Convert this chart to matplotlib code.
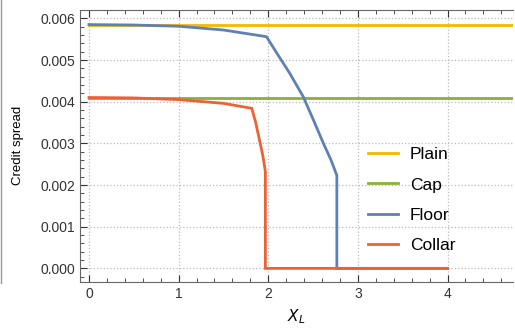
import numpy as np
import matplotlib
matplotlib.use("Agg")
import matplotlib.pyplot as plt
from matplotlib.lines import Line2D

plt.rcParams['font.family'] = ['Liberation Sans', 'DejaVu Sans']

# data
plain_x = [0.0, 4.72]
plain_y = [0.00585, 0.00585]

cap_x = [0.0, 4.72]
cap_y = [0.0041, 0.0041]

floor_x = [0.0, 0.5, 1.0, 1.5, 1.98, 2.1, 2.24, 2.39, 2.5, 2.615, 2.7, 2.765, 2.765, 4.0]
floor_y = [0.00585, 0.00584, 0.00581, 0.00572, 0.00556, 0.00515, 0.00468, 0.00412, 0.00358, 0.0030, 0.0026, 0.00223, 0.0, 0.0]

collar_x = [0.0, 0.5, 1.0, 1.5, 1.816, 1.86, 1.91, 1.94, 1.968, 1.968, 4.0]
collar_y = [0.0041, 0.00409, 0.00405, 0.00396, 0.00384, 0.0035, 0.0030, 0.0027, 0.00232, 0.0, 0.0]

names = ['Plain', 'Cap', 'Floor', 'Collar']
colors = ['#F7B800', '#8AB03A', '#5E81B5', '#EB6235']

fig = plt.figure(figsize=(5.15, 3.31), dpi=100)
ax = fig.add_axes([80/515, 49.3/331, 433/515, 271.7/331])

series = [(plain_x, plain_y), (cap_x, cap_y), (floor_x, floor_y), (collar_x, collar_y)]
for (xs, ys), n, c in zip(series, names, colors):
    ax.plot(xs, ys, color=c, lw=2, label=n, solid_joinstyle='miter')

ax.set_xlim(-0.1, 4.73)
ax.set_ylim(-0.00032, 0.0062)
ax.set_xticks([0, 1, 2, 3, 4])
ax.set_xticks(np.arange(-0.0, 4.8, 0.2), minor=True)
ax.set_yticks([0, 0.001, 0.002, 0.003, 0.004, 0.005, 0.006])
ax.set_yticks(np.arange(-0.0002, 0.0062, 0.0002), minor=True)
ax.set_yticklabels(['0.000', '0.001', '0.002', '0.003', '0.004', '0.005', '0.006'])
ax.tick_params(which='both', direction='in', top=True, right=False, labelsize=10, colors='#333333')
ax.tick_params(which='major', length=5, width=0.8)
ax.tick_params(which='minor', length=3, width=0.6)
ax.grid(True, which='major', linestyle=':', color='#bbbbbb', lw=0.9)
ax.spines['right'].set_visible(False)
for s in ['left', 'bottom', 'top']:
    ax.spines[s].set_color('#666666')

ax.set_ylabel('Credit spread', fontsize=9.5, labelpad=12)
ax.set_xlabel('$X_L$', fontsize=11, labelpad=5)

ax.legend(loc='center left', bbox_to_anchor=(0.63, 0.30), frameon=False, fontsize=12.5,
          handlelength=1.7, labelspacing=0.88, handletextpad=0.7)

fig.add_artist(Line2D([1/515, 1/515], [1 - 283/331, 1], color='#999999', lw=1))

fig.savefig('out.png', dpi=100)
